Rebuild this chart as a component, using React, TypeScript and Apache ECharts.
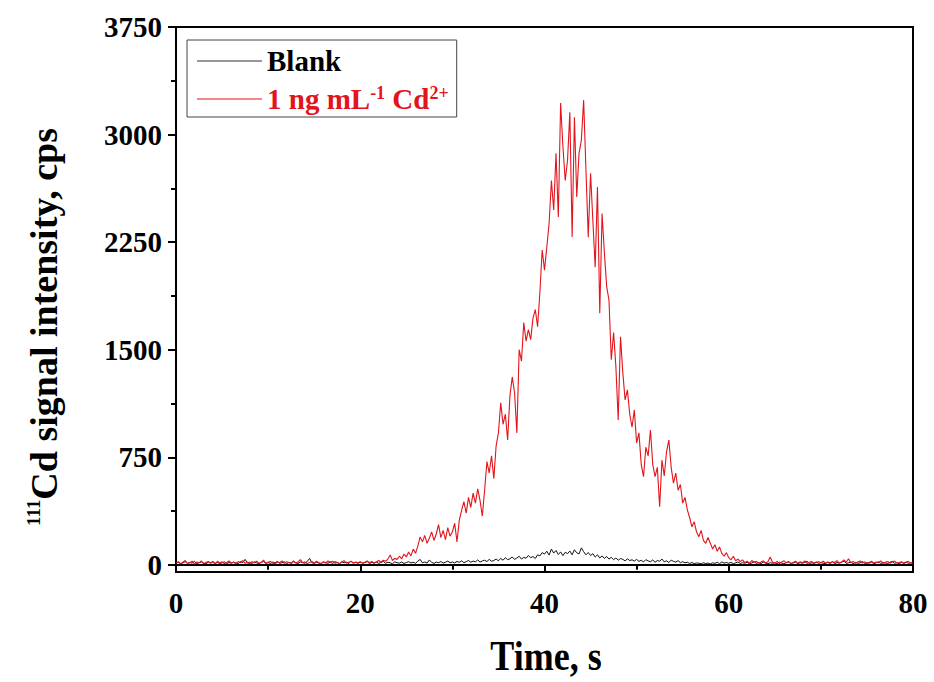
import React, { useEffect, useRef } from "react";
import * as echarts from "echarts";

const STEP = 0.25;

const redValues = [
  12, 22, 8, 18, 30, 10, 15, 26, 6, 20, 14, 28, 9, 17, 24, 11, 19, 7, 25, 13,
  21, 9, 16, 27, 12, 18, 8, 23, 15, 30, 10, 19, 6, 22, 14, 26, 11, 17, 33, 9,
  18, 24, 12, 7, 20, 15, 28, 10, 22, 16, 9, 25, 13, 19, 36, 14, 21, 8, 17, 24,
  11, 26, 15, 9, 20, 13, 27, 18, 10, 23, 16, 8, 21, 29, 12, 17, 25, 10, 19, 14,
  22, 12, 18, 27, 15, 24, 10, 20, 30, 18, 32, 25, 40, 68, 30, 45, 38, 60, 42, 75,
  55, 90, 62, 110, 80, 130, 195, 160, 205, 150, 185, 230, 170, 215, 280, 190, 240, 175, 260, 200,
  230, 290, 160, 310, 380, 440, 360, 470, 400, 500, 430, 530, 450, 340, 520, 720, 640, 760, 600, 830,
  920, 1130, 980, 1050, 870, 1180, 1310, 1200, 920, 1500, 1420, 1690, 1560, 1640, 1570, 1720, 1780, 1660, 1900, 2195,
  2055, 2215, 2380, 2680, 2475, 2870, 2425, 3220, 2915, 2680, 2820, 3155, 2285, 3120, 2565, 2870, 2960, 3240, 2750, 2285,
  2730, 2400, 2075, 2635, 1755, 2450, 2175, 1940, 1845, 1430, 1620, 1380, 1010, 1590, 1340, 1150, 1220, 1050, 960, 1080,
  850, 920, 700, 615, 820, 760, 940, 700, 615, 680, 405, 730, 620, 790, 870, 680, 570, 640, 520, 560,
  430, 470, 385, 330, 265, 300, 230, 195, 240, 170, 150, 190, 150, 110, 140, 95, 125, 80, 60, 85,
  50, 35, 60, 28, 40, 22, 35, 15, 25, 12, 30, 18, 24, 10, 20, 28, 14, 22, 55, 18,
  12, 24, 9, 19, 28, 14, 20, 8, 17, 25, 11, 21, 15, 27, 10, 18, 23, 9, 16, 22,
  14, 26, 11, 19, 8, 22, 16, 29, 12, 20, 35, 18, 42, 15, 24, 10, 19, 27, 13, 21,
  9, 17, 25, 12, 20, 14, 28, 10, 18, 23, 11, 19, 26, 13, 16, 22, 8, 18, 24, 12,
  15,
];

const blankValues = [
  10, 18, 6, 14, 22, 9, 16, 12, 25, 8, 15, 20, 11, 7, 19, 13, 24, 10, 17, 9,
  14, 21, 8, 16, 11, 19, 13, 9, 22, 15, 38, 12, 18, 10, 20, 14, 7, 17, 23, 11,
  16, 9, 19, 13, 24, 10, 15, 21, 8, 17, 12, 26, 14, 9, 20, 16, 11, 23, 45, 15,
  10, 18, 13, 8, 21, 15, 11, 19, 24, 12, 16, 9, 22, 14, 18, 10, 26, 13, 17, 11,
  19, 12, 15, 23, 9, 17, 13, 20, 10, 16, 24, 11, 18, 14, 8, 21, 15, 12, 19, 10,
  16, 22, 13, 18, 11, 25, 38, 14, 20, 12, 34, 17, 10, 19, 15, 23, 12, 18, 26, 14,
  20, 13, 24, 17, 28, 15, 22, 30, 18, 26, 21, 34, 19, 27, 32, 23, 38, 25, 30, 40,
  28, 45, 32, 50, 36, 42, 55, 38, 48, 60, 40, 52, 46, 65, 50, 58, 44, 70, 62, 85,
  75, 95, 68, 110, 82, 100, 72, 90, 64, 88, 78, 96, 70, 105, 84, 76, 118, 92, 70, 86,
  65, 78, 54, 70, 48, 62, 45, 58, 40, 52, 36, 48, 32, 44, 38, 28, 42, 30, 35, 26,
  38, 24, 32, 20, 36, 27, 22, 34, 18, 30, 25, 40, 21, 28, 16, 33, 24, 19, 29, 15,
  22, 14, 18, 10, 16, 8, 13, 11, 7, 15, 9, 12, 6, 14, 10, 18, 8, 20, 12, 16,
  11, 17, 8, 14, 20, 9, 15, 12, 18, 7, 13, 21, 10, 16, 9, 19, 12, 8, 15, 11,
  14, 9, 18, 12, 7, 16, 22, 10, 13, 19, 8, 15, 11, 17, 24, 9, 14, 12, 20, 10,
  16, 11, 8, 19, 13, 22, 9, 15, 12, 18, 26, 10, 14, 20, 8, 17, 11, 13, 23, 9,
  15, 12, 19, 8, 14, 21, 10, 16, 13, 9, 18, 24, 11, 15, 7, 17, 12, 20, 10, 14,
  12,
];

const yMajorTicks = [0, 750, 1500, 2250, 3000, 3750];
const yMinorTicks = [375, 1125, 1875, 2625, 3375];

const SERIF = '"Liberation Serif", "Times New Roman", serif';
const RED = "#e3141b";
const RED_NAME = "1 ng mL-1 Cd2+";

export default function App() {
  const ref = useRef<HTMLDivElement>(null);

  useEffect(() => {
    if (!ref.current) return;
    const chart = echarts.init(ref.current, undefined, { renderer: "svg" });
    const toPairs = (vals: number[]) => vals.map((v, i) => [i * STEP, v]);

    chart.setOption({
      animation: false,
      backgroundColor: "#fff",
      grid: {
        left: 176,
        right: 21,
        top: 27,
        bottom: 110,
        show: true,
        borderColor: "#000",
        borderWidth: 2,
        backgroundColor: "transparent",
      },
      legend: {
        orient: "vertical",
        left: 187,
        top: 40,
        padding: [6, 8, 3, 10],
        itemGap: 8,
        itemWidth: 65,
        itemHeight: 1.2,
        icon: "rect",
        borderColor: "#444",
        borderWidth: 1,
        backgroundColor: "#fff",
        formatter: (name: string) =>
          name === RED_NAME ? "{n|1 ng mL}{s|-1}{n| Cd}{s|2+}" : name,
        textStyle: {
          fontFamily: SERIF,
          fontWeight: "bold",
          fontSize: 29,
          lineHeight: 30,
          color: "#000",
          rich: {
            n: { color: RED, fontFamily: SERIF, fontWeight: "bold", fontSize: 29, lineHeight: 30 },
            s: { color: RED, fontFamily: SERIF, fontWeight: "bold", fontSize: 18, lineHeight: 20, verticalAlign: "top" },
          },
        },
        data: [
          { name: "Blank", textStyle: { color: "#000" } },
          { name: RED_NAME, textStyle: { color: RED } },
        ],
      },
      xAxis: {
        type: "value",
        min: 0,
        max: 80,
        interval: 20,
        axisLine: { show: true, lineStyle: { color: "#000", width: 2 } },
        axisTick: { show: true, inside: false, length: 8, lineStyle: { color: "#000", width: 2 } },
        minorTick: { show: true, splitNumber: 2, length: 5, lineStyle: { color: "#000", width: 2 } },
        splitLine: { show: false },
        minorSplitLine: { show: false },
        axisLabel: {
          margin: 16,
          color: "#000",
          fontFamily: SERIF,
          fontWeight: "bold",
          fontSize: 29,
        },
      },
      yAxis: [
        {
          type: "value",
          min: -50,
          max: 3750,
          axisLine: { show: true, lineStyle: { color: "#000", width: 2 } },
          axisTick: {
            show: true,
            inside: false,
            length: 8,
            customValues: yMajorTicks,
            lineStyle: { color: "#000", width: 2 },
          },
          splitLine: { show: false },
          axisLabel: {
            customValues: yMajorTicks,
            formatter: (v: number) => String(v),
            margin: 14,
            color: "#000",
            fontFamily: SERIF,
            fontWeight: "bold",
            fontSize: 29,
          },
        },
        {
          type: "value",
          position: "left",
          min: -50,
          max: 3750,
          axisLine: { show: false },
          axisTick: {
            show: true,
            inside: false,
            length: 5,
            customValues: yMinorTicks,
            lineStyle: { color: "#000", width: 2 },
          },
          splitLine: { show: false },
          axisLabel: { show: false },
        },
      ],
      series: [
        {
          name: "Blank",
          type: "line",
          yAxisIndex: 0,
          data: toPairs(blankValues),
          symbol: "none",
          showSymbol: false,
          lineStyle: { color: "#111", width: 1 },
          itemStyle: { color: "#333" },
          z: 2,
        },
        {
          name: RED_NAME,
          type: "line",
          yAxisIndex: 0,
          data: toPairs(redValues),
          symbol: "none",
          showSymbol: false,
          lineStyle: { color: RED, width: 1.1 },
          itemStyle: { color: RED },
          z: 3,
        },
      ],
      graphic: [
        {
          type: "text",
          x: 546,
          y: 656,
          scaleY: 1.15,
          style: {
            text: "Time, s",
            fill: "#000",
            fontFamily: SERIF,
            fontWeight: "bold",
            fontSize: 36,
            align: "center",
            verticalAlign: "middle",
          },
        },
        {
          type: "text",
          x: 44,
          y: 327,
          rotation: Math.PI / 2,
          style: {
            text: "{sup|111}{main|Cd signal intensity, cps}",
            fill: "#000",
            align: "center",
            verticalAlign: "middle",
            rich: {
              sup: { fill: "#000", fontFamily: SERIF, fontWeight: "bold", fontSize: 19, verticalAlign: "top" },
              main: { fill: "#000", fontFamily: SERIF, fontWeight: "bold", fontSize: 38, lineHeight: 40 },
            },
          },
        },
      ],
    });

    return () => chart.dispose();
  }, []);

  return (
    <div
      ref={ref}
      style={{ position: "fixed", left: 0, top: 0, width: 934, height: 682, background: "#fff" }}
    />
  );
}
